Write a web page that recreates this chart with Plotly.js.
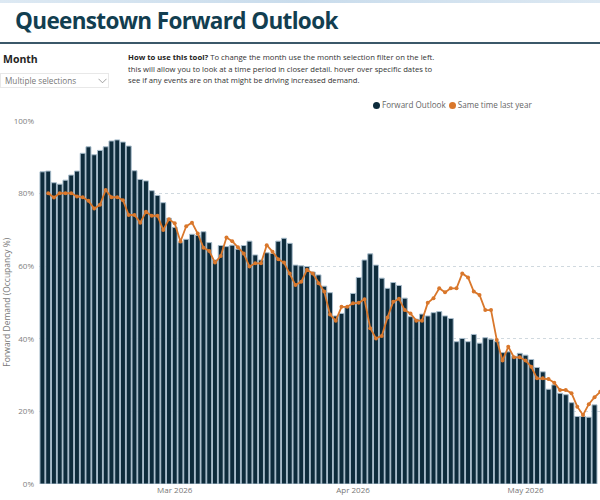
<!DOCTYPE html>
<html>
<head>
<meta charset="utf-8">
<script src="https://cdn.plot.ly/plotly-3.0.1.min.js"></script>
<style>
  html, body { margin:0; padding:0; background:#fff; }
  #wrap { position:relative; width:600px; height:500px; overflow:hidden; background:#fff; font-family:"Open Sans", "Noto Sans", sans-serif; }
  #chart { position:absolute; left:0; top:0; width:600px; height:500px; }
  #topband { position:absolute; left:0; top:0; width:600px; height:3px; background:linear-gradient(90deg,#dde9f3,#c9dcec 50%,#dce8f2); }
  #title { position:absolute; left:15px; top:5px; font-size:22.5px; font-weight:700; color:#123e50; letter-spacing:-0.65px; white-space:nowrap; }
  #rule { position:absolute; left:0; top:42px; width:600px; height:2px; background:#3b5869; }
  #month { position:absolute; left:3px; top:52px; font-size:10.5px; font-weight:700; color:#252423; }
  #dd { position:absolute; left:0; top:73px; width:109px; height:15px; border:1px solid #e8e8e8; box-sizing:border-box; }
  #ddtext { position:absolute; left:4px; top:0px; font-size:8.2px; color:#777; line-height:14px; white-space:nowrap; }
  #ddchev { position:absolute; left:97px; top:4px; }
  #howto { position:absolute; left:128px; top:52px; font-size:7.7px; line-height:11.5px; color:#333; white-space:nowrap; }
  #howto b { color:#252423; }
  #legend { position:absolute; left:373px; top:100px; font-size:8.1px; color:#666; white-space:nowrap; line-height:10px; }
  .dot { display:inline-block; width:7px; height:7px; border-radius:50%; vertical-align:-1px; margin-right:2px; }
</style>
</head>
<body>
<div id="wrap">
  <div id="chart"></div>
  <div id="topband"></div>
  <div id="title">Queenstown Forward Outlook</div>
  <div id="rule"></div>
  <div id="month">Month</div>
  <div id="dd"><span id="ddtext">Multiple selections</span>
    <svg id="ddchev" width="9" height="6" viewBox="0 0 9 6"><polyline points="0.5,0.8 4.5,4.8 8.5,0.8" fill="none" stroke="#888" stroke-width="0.8"/></svg>
  </div>
  <div id="howto"><b>How to use this tool?</b> To change the month use the month selection filter on the left.<br>this will allow you to look at a time period in closer detail. hover over specific dates to<br>see if any events are on that might be driving increased demand.</div>
  <div id="legend"><span class="dot" style="background:#0d2b3b"></span>Forward Outlook <span class="dot" style="background:#d9772b;margin-left:1px"></span>Same time last year</div>
</div>
<script>
// ---- data ----
const startDate = "2026-02-06";
const seriesNames = ["Forward Outlook", "Same time last year"];
const yAxisTitle = "Forward Demand (Occupancy %)";
const forwardOutlook = [
  86.0, 86.2, 83.0, 82.6, 83.7, 85.1, 86.2, 91.1, 92.9, 90.7,
  91.9, 92.9, 94.5, 94.8, 94.2, 93.1, 86.3, 83.9, 83.5, 80.8,
  79.5, 77.5, 73.2, 70.7, 66.5, 67.4, 68.8, 68.5, 69.5, 66.5,
  61.7, 65.7, 65.4, 65.8, 64.7, 65.7, 66.9, 63.1, 61.7, 63.7,
  63.5, 66.9, 67.7, 66.3, 60.3, 60.1, 59.9, 58.4, 57.6, 54.5,
  52.7, 46.3, 47.0, 48.7, 52.5, 56.9, 61.7, 63.4, 60.3, 56.7,
  53.9, 55.5, 54.7, 51.2, 46.1, 45.4, 46.8, 46.3, 47.2, 47.5,
  46.3, 45.6, 39.2, 40.1, 39.2, 41.2, 38.8, 40.3, 39.9, 39.2,
  36.2, 36.4, 35.1, 36.0, 35.5, 34.3, 32.1, 30.9, 26.1, 27.3,
  25.0, 24.6, 22.4, 18.6, 18.6, 18.4, 21.8
];
const sameTimeLastYear = [
  null, 80.1, 78.9, 80.1, 80.1, 80.1, 79.2, 79.0, 78.0, 75.9,
  76.9, 81.0, 79.0, 79.0, 78.2, 74.1, 74.1, 72.0, 75.0, 73.9,
  73.9, 70.0, 72.9, 71.8, 66.8, 71.0, 72.0, 69.0, 65.1, 64.2,
  61.0, 62.8, 67.9, 66.9, 65.2, 63.5, 59.9, 60.8, 60.8, 65.8,
  64.0, 61.9, 61.0, 58.0, 54.8, 55.7, 59.0, 58.0, 55.3, 53.0,
  46.7, 45.0, 48.8, 48.8, 49.8, 49.9, 50.9, 42.9, 40.1, 40.8,
  45.9, 50.2, 51.0, 47.9, 47.0, 45.0, 45.0, 49.9, 51.2, 53.9,
  52.8, 53.9, 53.9, 58.0, 56.9, 53.0, 52.1, 47.9, 47.9, 39.7,
  34.0, 37.8, 34.9, 34.9, 34.0, 32.3, 29.1, 29.1, 28.9, 27.9,
  25.9, 25.9, 25.0, 21.3, 19.0, 22.0, 23.9, 25.4
];
const yTickValues = [0, 20, 40, 60, 80, 100];
const yTickLabels = ["0%", "20%", "40%", "60%", "80%", "100%"];

// ---- daily date categories ----
function dayList(start, n) {
  const out = [];
  const d0 = new Date(start + "T00:00:00Z");
  for (let i = 0; i < n; i++) {
    const d = new Date(d0.getTime() + i * 86400000);
    out.push(d.toISOString().slice(0, 10));
  }
  return out;
}
const barDates = dayList(startDate, forwardOutlook.length);
const lineDates = dayList(startDate, sameTimeLastYear.length);

const traces = [
  {
    type: "bar", name: seriesNames[0], x: barDates, y: forwardOutlook,
    marker: { color: "#0d2b3b", line: { color: "#a7bccb", width: 1 } },
    showlegend: false, hoverinfo: "x+y"
  },
  {
    type: "scatter", mode: "lines+markers", name: seriesNames[1], x: lineDates, y: sameTimeLastYear,
    line: { color: "#d9772b", width: 1.8 }, marker: { color: "#d9772b", size: 4 },
    connectgaps: false, showlegend: false, cliponaxis: true
  }
];

const layout = {
  width: 600, height: 500,
  margin: { l: 39, r: 0, t: 121, b: 16, pad: 0 },
  paper_bgcolor: "rgba(0,0,0,0)", plot_bgcolor: "rgba(0,0,0,0)",
  bargap: 0.14,
  showlegend: false,
  font: { family: "Open Sans, Noto Sans, sans-serif", size: 8, color: "#777" },
  xaxis: {
    type: "date",
    range: ["2026-02-05 09:36", "2026-05-13 22:48"],
    tickformat: "%b %Y", dtick: "M1", tick0: "2026-03-01",
    ticks: "", showgrid: false, zeroline: false, showline: false,
    tickfont: { size: 8, color: "#777" }, fixedrange: true
  },
  yaxis: {
    range: [0, 100],
    tickvals: yTickValues, ticktext: yTickLabels,
    ticks: "", showgrid: true, gridcolor: "#d0d9df", griddash: "dot", gridwidth: 1,
    zeroline: false, showline: false, automargin: false,
    ticklabelstandoff: 4,
    tickfont: { size: 8, color: "#808080" },
    fixedrange: true
  },
  annotations: [{
    text: yAxisTitle, xref: "paper", yref: "paper",
    x: -0.0585, y: 0.5, xanchor: "center", yanchor: "middle",
    textangle: -90, showarrow: false,
    font: { size: 8.5, color: "#777" }
  }]
};

Plotly.newPlot("chart", traces, layout, { displayModeBar: false, staticPlot: true });
</script>
</body>
</html>
